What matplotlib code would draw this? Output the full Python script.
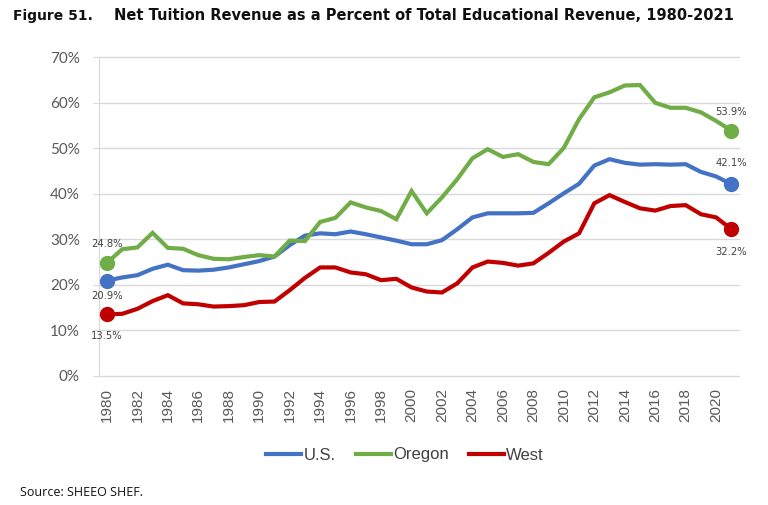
import matplotlib
matplotlib.use("Agg")
import matplotlib.pyplot as plt
from matplotlib.ticker import FuncFormatter

years = list(range(1980, 2022))
us = [20.9, 21.6, 22.1, 23.5, 24.4, 23.2, 23.1, 23.3, 23.8, 24.5,
      25.2, 26.2, 28.7, 30.8, 31.3, 31.1, 31.7, 31.1, 30.4, 29.7,
      28.9, 28.9, 29.8, 32.2, 34.8, 35.7, 35.7, 35.7, 35.8, 37.9,
      40.1, 42.2, 46.2, 47.6, 46.8, 46.4, 46.5, 46.4, 46.5, 44.8,
      43.8, 42.1]
oregon = [24.8, 27.8, 28.2, 31.4, 28.1, 27.9, 26.5, 25.7, 25.6, 26.1,
          26.5, 26.2, 29.7, 29.6, 33.8, 34.7, 38.1, 37.0, 36.2, 34.4,
          40.6, 35.7, 39.2, 43.2, 47.8, 49.8, 48.1, 48.7, 47.0, 46.5,
          50.1, 56.4, 61.2, 62.3, 63.8, 63.9, 60.0, 58.9, 58.9, 57.9,
          56.0, 53.9]
west = [13.5, 13.6, 14.7, 16.4, 17.7, 15.9, 15.7, 15.2, 15.3, 15.5,
        16.2, 16.3, 18.8, 21.5, 23.8, 23.8, 22.7, 22.3, 21.0, 21.3,
        19.4, 18.5, 18.3, 20.3, 23.8, 25.1, 24.8, 24.2, 24.7, 27.0,
        29.5, 31.3, 37.9, 39.7, 38.2, 36.8, 36.3, 37.3, 37.5, 35.5,
        34.8, 32.2]
series_names = ["U.S.", "Oregon", "West"]
colors = ["#4472C4", "#70AD47", "#C00000"]
y_ticks = [0, 10, 20, 30, 40, 50, 60, 70]

fig = plt.figure(figsize=(7.68, 5.05), dpi=100)
ax = fig.add_axes([99.3 / 768, 1 - 375.7 / 505, (739 - 99.3) / 768, (375.7 - 57.3) / 505])

x = list(range(len(years)))
data = [us, oregon, west]
lines = []
for name, vals, c in zip(series_names, data, colors):
    ln, = ax.plot(x, vals, color=c, lw=3.0, label=name, solid_joinstyle="miter", zorder=3)
    lines.append(ln)
    ax.plot([x[0], x[-1]], [vals[0], vals[-1]], "o", color=c, ms=10, zorder=4)

# annotations (offsets in pixels)
lab_col = "#404040"
ann = [
    (0, oregon[0], 19), (0, us[0], -15), (0, west[0], -22),
    (41, oregon[-1], 19), (41, us[-1], 21), (41, west[-1], -23),
]
for xi, v, dy in ann:
    ax.annotate(f"{v:.1f}%", (xi, v), xytext=(0, dy), textcoords="offset pixels",
                ha="center", va="center", fontsize=7.2, color=lab_col,
                family="DejaVu Sans")

ax.set_xlim(-0.5, len(years) - 0.5)
ax.set_ylim(0, 70)
ax.set_yticks(y_ticks)
ax.yaxis.set_major_formatter(FuncFormatter(lambda v, p: f"{int(v)}%"))
ax.set_xticks(x[::2])
ax.set_xticklabels([str(y) for y in years[::2]], rotation=90, fontsize=11,
                   color="#595959", family="Liberation Sans")
for lbl in ax.get_yticklabels():
    lbl.set_fontsize(11)
    lbl.set_color("#595959")
    lbl.set_family("Lato")
ax.tick_params(axis="x", length=0, pad=9)
ax.tick_params(axis="y", length=4, color="#D9D9D9", pad=10)
ax.grid(axis="y", color="#D9D9D9", lw=1)
for gl in ax.get_ygridlines():
    gl.set_clip_on(False)
ax.set_axisbelow(True)
for s in ["top", "right", "bottom"]:
    ax.spines[s].set_visible(False)
ax.spines["left"].set_color("#D9D9D9")

fig.legend(handles=lines, loc="center", bbox_to_anchor=(405 / 768, 1 - 455 / 505),
           ncol=3, frameon=False, handlelength=2.1, handletextpad=0.15,
           columnspacing=1.2, prop={"family": "Liberation Sans", "size": 12})
for t in fig.legends[0].get_texts():
    t.set_color("#404040")

fig.text(13 / 768, 1 - 16 / 505, "Figure 51.", fontsize=10, fontweight="bold",
         va="center", ha="left", color="#111111", family="DejaVu Sans")
fig.text(114 / 768, 1 - 16 / 505,
         "Net Tuition Revenue as a Percent of Total Educational Revenue, 1980-2021",
         fontsize=10.5, fontweight="bold", va="center", ha="left", color="#111111",
         family="DejaVu Sans")
fig.text(20 / 768, 1 - 493 / 505, "Source: SHEEO SHEF.", fontsize=9, va="center",
         ha="left", color="#111111", family="Open Sans")

fig.savefig("out.png", dpi=100)
